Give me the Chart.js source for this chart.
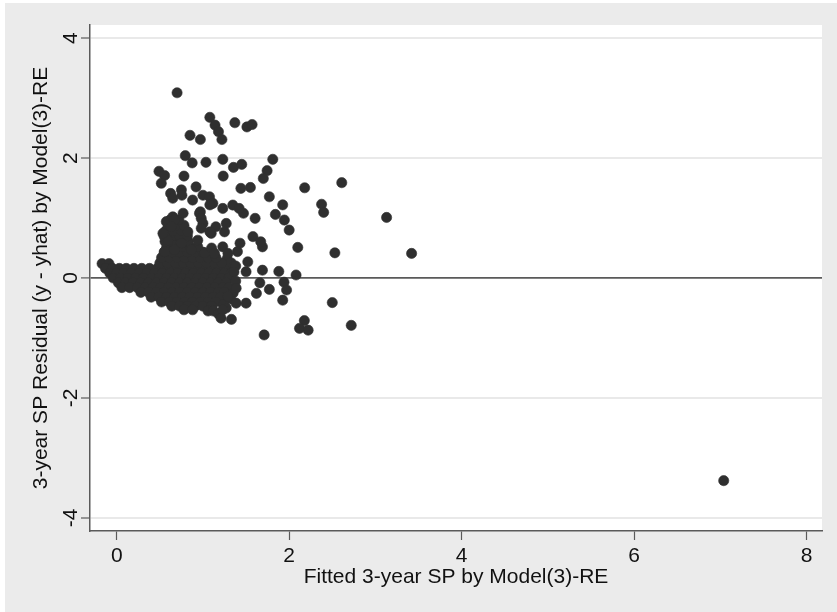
<!DOCTYPE html>
<html>
<head>
<meta charset="utf-8">
<script src="https://cdn.jsdelivr.net/npm/chart.js@4"></script>
<style>
  html, body { margin: 0; padding: 0; background: #ffffff; }
  canvas { display: block; }
</style>
</head>
<body>
<canvas id="residChart" width="837" height="612"></canvas>
<script>
// fitted value, residual
var residualPoints = [
    // dense body near zero
    [-0.17,0.24],[-0.09,0.24],
    [-0.13,0.16],[-0.05,0.16],[0.03,0.16],[0.11,0.16],[0.2,0.16],[0.29,0.16],[0.38,0.16],[0.47,0.16],
    [0.56,0.16],[0.65,0.16],[0.74,0.16],[0.83,0.16],[0.92,0.16],[1.01,0.16],[1.1,0.16],[1.19,0.16],[1.28,0.16],
    [-0.08,0.08],[0.0,0.08],[0.08,0.08],[0.17,0.08],[0.26,0.08],[0.35,0.08],[0.44,0.08],[0.53,0.08],[0.62,0.08],
    [0.71,0.08],[0.8,0.08],[0.89,0.08],[0.98,0.08],[1.07,0.08],[1.16,0.08],[1.25,0.08],[1.33,0.08],
    [-0.04,0.0],[0.04,0.0],[0.13,0.0],[0.22,0.0],[0.31,0.0],[0.4,0.0],[0.49,0.0],[0.58,0.0],[0.67,0.0],
    [0.76,0.0],[0.85,0.0],[0.94,0.0],[1.03,0.0],[1.12,0.0],[1.21,0.0],[1.3,0.0],
    [0.02,-0.08],[0.1,-0.08],[0.19,-0.08],[0.28,-0.08],[0.37,-0.08],[0.46,-0.08],[0.55,-0.08],[0.64,-0.08],
    [0.73,-0.08],[0.82,-0.08],[0.91,-0.08],[1.0,-0.08],[1.09,-0.08],[1.18,-0.08],[1.27,-0.08],
    [0.06,-0.16],[0.15,-0.16],[0.24,-0.16],[0.33,-0.16],[0.42,-0.16],[0.51,-0.16],[0.6,-0.16],[0.69,-0.16],
    [0.78,-0.16],[0.87,-0.16],[0.96,-0.16],[1.05,-0.16],[1.14,-0.16],[1.23,-0.16],[1.3,-0.16],
    [0.28,-0.24],[0.37,-0.24],[0.46,-0.24],[0.55,-0.24],[0.64,-0.24],[0.73,-0.24],[0.82,-0.24],[0.91,-0.24],
    [1.0,-0.24],[1.09,-0.24],[1.18,-0.24],[1.25,-0.24],[1.35,-0.25],
    [0.4,-0.32],[0.49,-0.32],[0.58,-0.32],[0.67,-0.32],[0.76,-0.32],[0.85,-0.32],[0.94,-0.32],[1.03,-0.32],
    [1.12,-0.32],[1.2,-0.32],[1.32,-0.35],
    [0.52,-0.4],[0.61,-0.4],[0.7,-0.4],[0.79,-0.4],[0.88,-0.4],[0.97,-0.4],[1.06,-0.4],[1.15,-0.4],[1.24,-0.44],
    [0.64,-0.47],[0.73,-0.47],[0.82,-0.47],[0.91,-0.47],[1.0,-0.47],[1.1,-0.47],[1.27,-0.5],
    [0.78,-0.53],[0.88,-0.53],[1.06,-0.55],[1.12,-0.55],[1.18,-0.6],
    [1.33,0.25],[1.28,0.32],[1.38,0.2],[1.36,0.1],[1.38,-0.05],
    // rising part of the body
    [0.5,0.25],[0.59,0.25],[0.68,0.25],[0.77,0.25],[0.86,0.25],[0.95,0.25],[1.04,0.25],[1.13,0.25],[1.22,0.25],
    [0.52,0.34],[0.61,0.34],[0.7,0.34],[0.79,0.34],[0.88,0.34],[0.97,0.34],[1.06,0.34],[1.15,0.34],
    [0.55,0.43],[0.64,0.43],[0.73,0.43],[0.82,0.43],[0.91,0.43],[1.0,0.43],
    [0.58,0.52],[0.67,0.52],[0.76,0.52],[0.85,0.52],[0.94,0.52],
    [0.56,0.61],[0.65,0.61],[0.74,0.61],[0.83,0.61],
    [0.55,0.7],[0.64,0.7],[0.73,0.7],[0.82,0.7],
    [0.57,0.79],[0.66,0.79],[0.75,0.79],
    [0.6,0.88],[0.7,0.88],[0.78,0.88],
    [0.62,0.97],[0.72,0.97],
    [0.594,0.63],[0.75,0.58],[0.94,0.63],[0.555,0.44],[0.67,0.47],[0.865,0.47],[1.02,0.42],[1.1,0.5],
    // scattered points
    [0.7,3.09],[1.08,2.68],[1.14,2.55],[1.18,2.44],[1.22,2.31],[1.37,2.59],[1.51,2.52],[1.57,2.56],
    [0.85,2.38],[0.97,2.31],[0.795,2.04],[0.875,1.92],[1.035,1.93],[1.23,1.98],[1.81,1.98],
    [0.49,1.78],[0.555,1.71],[0.517,1.58],[0.78,1.7],[1.235,1.7],[1.354,1.845],[1.45,1.895],
    [1.744,1.79],[1.7,1.66],[2.18,1.505],[2.61,1.59],[1.44,1.495],[1.55,1.51],[0.92,1.52],
    [0.625,1.41],[0.75,1.47],[0.65,1.33],[1.0,1.38],[1.076,1.355],[0.88,1.3],[0.756,1.38],
    [1.77,1.355],[1.925,1.22],[2.376,1.23],[2.4,1.095],[3.13,1.01],[1.84,1.06],[1.944,0.967],
    [2.0,0.8],[1.605,0.995],[1.47,1.08],[1.346,1.217],[1.23,1.16],[1.115,1.245],[1.42,1.16],
    [1.08,1.22],[0.96,1.08],[0.97,1.105],[0.98,0.995],[1.15,0.855],[1.27,0.91],[1.25,0.77],
    [1.096,0.745],[1.08,0.77],[1.0,0.91],[0.77,1.08],[0.575,0.94],[0.536,0.745],[0.65,1.02],
    [0.67,0.97],[0.633,0.855],[0.825,0.77],[0.98,0.83],[1.58,0.69],[1.69,0.52],[1.67,0.605],
    [2.1,0.51],[2.53,0.42],[3.42,0.41],[1.43,0.58],[1.4,0.44],[1.23,0.52],[1.134,0.41],[1.29,0.41],
    [1.52,0.27],[1.5,0.105],[1.69,0.13],[1.88,0.11],[2.08,0.05],[1.66,-0.08],[1.77,-0.19],
    [1.62,-0.256],[1.94,-0.07],[1.97,-0.2],[1.925,-0.37],[2.5,-0.41],[2.176,-0.71],[2.12,-0.84],
    [2.22,-0.87],[1.71,-0.95],[1.33,-0.69],[1.21,-0.67],[1.5,-0.42],[1.385,-0.42],[1.23,-0.53],
    [2.72,-0.79],[1.385,-0.17],[1.29,-0.31],
    [7.04,-3.38]
];

var xTicks = [0, 2, 4, 6, 8];
var yTicks = [-4, -2, 0, 2, 4];
var xTitle = 'Fitted 3-year SP by Model(3)-RE';
var yTitle = '3-year SP Residual (y - yhat) by Model(3)-RE';

var axisColor = '#5a5a5a';
var gridColor = '#e9e9e9';
var fontSpec = { family: 'Liberation Sans, Arial, sans-serif', size: 21 };

// gray outer area, white plot region
var backgroundPlugin = {
    id: 'stataBackground',
    beforeDraw: function (chart) {
        var c = chart.ctx, a = chart.chartArea;
        c.save();
        c.fillStyle = '#ffffff';
        c.fillRect(0, 0, chart.width, chart.height);
        c.fillStyle = '#ebebeb';
        c.fillRect(5, 3, chart.width - 5, chart.height - 3);
        c.fillStyle = '#ffffff';
        c.fillRect(a.left, a.top, a.right - a.left, a.bottom - a.top);
        c.restore();
    }
};

var ctx = document.getElementById('residChart').getContext('2d');
var residChart = new Chart(ctx, {
    type: 'scatter',
    data: {
        datasets: [{
            data: residualPoints.map(function (p) { return { x: p[0], y: p[1] }; }),
            backgroundColor: '#2f2f2f',
            borderColor: '#2f2f2f',
            borderWidth: 0.6,
            pointRadius: 5.1,
            pointHoverRadius: 5.1
        }]
    },
    options: {
        responsive: false,
        animation: false,
        devicePixelRatio: 1,
        layout: { padding: { top: 25, right: 15, left: 0, bottom: 0 } },
        plugins: { legend: { display: false }, tooltip: { enabled: false } },
        scales: {
            x: {
                type: 'linear',
                min: -0.31,
                max: 8.18,
                afterBuildTicks: function (s) { s.ticks = xTicks.map(function (v) { return { value: v }; }); },
                afterFit: function (s) { s.height = 81; },
                border: { display: true, color: axisColor, width: 1.5 },
                grid: { drawOnChartArea: false, drawTicks: true, tickLength: 9, tickColor: axisColor, tickWidth: 1.2 },
                ticks: { color: '#111', font: fontSpec, padding: 4, maxRotation: 0 },
                title: { display: true, text: xTitle, color: '#111', font: fontSpec, padding: { top: 0, bottom: 22 } }
            },
            y: {
                type: 'linear',
                min: -4.22,
                max: 4.22,
                afterBuildTicks: function (s) { s.ticks = yTicks.map(function (v) { return { value: v }; }); },
                afterFit: function (s) { s.width = 90; },
                border: { display: true, color: axisColor, width: 1.5 },
                grid: {
                    drawTicks: true,
                    tickLength: 9,
                    tickColor: axisColor,
                    tickWidth: 1.2,
                    color: function (c) { return c.tick && c.tick.value === 0 ? axisColor : gridColor; },
                    lineWidth: function (c) { return c.tick && c.tick.value === 0 ? 1.8 : 2; }
                },
                ticks: { color: '#111', font: fontSpec, padding: 0, minRotation: 90, maxRotation: 90, crossAlign: 'center' },
                title: { display: true, text: yTitle, color: '#111', font: fontSpec, padding: { top: 29, bottom: 0 } }
            }
        }
    },
    plugins: [backgroundPlugin]
});
</script>
</body>
</html>
